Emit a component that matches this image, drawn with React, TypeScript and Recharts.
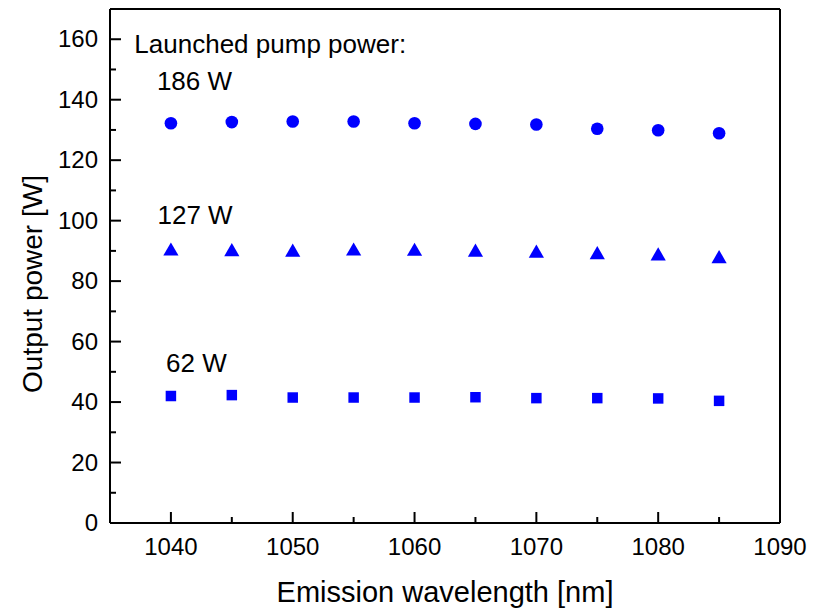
import React from "react";
import { ReferenceDot, Scatter, ScatterChart, Symbols, XAxis, YAxis } from "recharts";

const wavelengths = [1040, 1045, 1050, 1055, 1060, 1065, 1070, 1075, 1080, 1085];
const power186 = [132.2, 132.6, 132.8, 132.8, 132.2, 132.0, 131.8, 130.4, 129.9, 128.9];
const power127 = [89.9, 89.7, 89.5, 89.9, 89.8, 89.5, 89.2, 88.7, 88.3, 87.4];
const power62 = [42.0, 42.3, 41.5, 41.5, 41.5, 41.6, 41.3, 41.3, 41.2, 40.4];

const xTicks = [1035, 1040, 1045, 1050, 1055, 1060, 1065, 1070, 1075, 1080, 1085, 1090];
const yTicks = [0, 10, 20, 30, 40, 50, 60, 70, 80, 90, 100, 110, 120, 130, 140, 150, 160, 170];

const FONT = "'Liberation Sans', Arial, sans-serif";
const BLUE = "#0000ff";

const toPoints = (ys: number[]) => wavelengths.map((x, i) => ({ x, y: ys[i] }));

// ticks point into the plot on all four sides; labels only on bottom/left majors
function makeTick(side: "bottom" | "top" | "left" | "right") {
  return (props: any) => {
    const { x, y, payload } = props;
    const v = payload.value as number;
    const horizontal = side === "bottom" || side === "top";
    const major = horizontal ? v % 10 === 0 : v % 20 === 0;
    const len = major ? 11 : 6;
    let line;
    if (side === "bottom") line = <line x1={x} y1={y} x2={x} y2={y - len} />;
    else if (side === "top") line = <line x1={x} y1={y} x2={x} y2={y + len} />;
    else if (side === "left") line = <line x1={x} y1={y} x2={x + len} y2={y} />;
    else line = <line x1={x} y1={y} x2={x - len} y2={y} />;
    return (
      <g stroke="#000" strokeWidth={2}>
        {line}
        {major && side === "bottom" && (
          <text x={x} y={y + 32} textAnchor="middle" fontSize={24} fontFamily={FONT} fill="#000" stroke="none">
            {v}
          </text>
        )}
        {major && side === "left" && (
          <text x={x - 12} y={y + 8} textAnchor="end" fontSize={24} fontFamily={FONT} fill="#000" stroke="none">
            {v}
          </text>
        )}
      </g>
    );
  };
}

const marker = (type: "circle" | "triangle" | "square", size: number) => (p: any) =>
  <Symbols cx={p.cx} cy={p.cy} type={type} size={size} fill={BLUE} />;

const note = (text: string) => ({ viewBox }: any) => (
  <text x={viewBox.x} y={viewBox.y} fontSize={26} fontFamily={FONT} fill="#000">
    {text}
  </text>
);

export default function App() {
  return (
    <div style={{ position: "absolute", left: 0, top: 0, background: "#fff" }}>
      <ScatterChart width={814} height={613} margin={{ top: 4, right: 29, bottom: 60, left: 50 }}>
        <XAxis
          dataKey="x" type="number" domain={[1035, 1090]} ticks={xTicks} interval={0}
          height={30} tickSize={0} tickMargin={0} tickLine={false}
          axisLine={{ stroke: "#000", strokeWidth: 2 }} tick={makeTick("bottom")}
          label={{
            content: ({ viewBox }: any) => (
              <text x={viewBox.x + viewBox.width / 2} y={viewBox.y + 79} textAnchor="middle"
                fontSize={29} fontFamily={FONT} fill="#000">
                Emission wavelength [nm]
              </text>
            ),
          }}
        />
        <XAxis
          xAxisId="top" orientation="top" type="number" domain={[1035, 1090]} ticks={xTicks} interval={0}
          height={5} tickSize={0} tickMargin={0} tickLine={false}
          axisLine={{ stroke: "#000", strokeWidth: 2 }} tick={makeTick("top")}
        />
        <YAxis
          dataKey="y" type="number" domain={[0, 170]} ticks={yTicks} interval={0}
          width={60} tickSize={0} tickMargin={0} tickLine={false}
          axisLine={{ stroke: "#000", strokeWidth: 2 }} tick={makeTick("left")}
          label={{
            content: () => (
              <text x={42} y={284} textAnchor="middle" transform="rotate(-90, 42, 284)"
                fontSize={28} fontFamily={FONT} fill="#000">
                Output power [W]
              </text>
            ),
          }}
        />
        <YAxis
          yAxisId="right" orientation="right" type="number" domain={[0, 170]} ticks={yTicks} interval={0}
          width={5} tickSize={0} tickMargin={0} tickLine={false}
          axisLine={{ stroke: "#000", strokeWidth: 2 }} tick={makeTick("right")}
        />
        <Scatter data={toPoints(power186)} shape={marker("circle", 125)} isAnimationActive={false} />
        <Scatter data={toPoints(power127)} shape={marker("triangle", 100)} isAnimationActive={false} />
        <Scatter data={toPoints(power62)} shape={marker("square", 110)} isAnimationActive={false} />
        <ReferenceDot x={1037} y={155.5} r={0} fill="none" stroke="none" label={{ content: note("Launched pump power:") }} />
        <ReferenceDot x={1038.85} y={143.3} r={0} fill="none" stroke="none" label={{ content: note("186 W") }} />
        <ReferenceDot x={1038.9} y={98.9} r={0} fill="none" stroke="none" label={{ content: note("127 W") }} />
        <ReferenceDot x={1039.6} y={49.9} r={0} fill="none" stroke="none" label={{ content: note("62 W") }} />
      </ScatterChart>
    </div>
  );
}
